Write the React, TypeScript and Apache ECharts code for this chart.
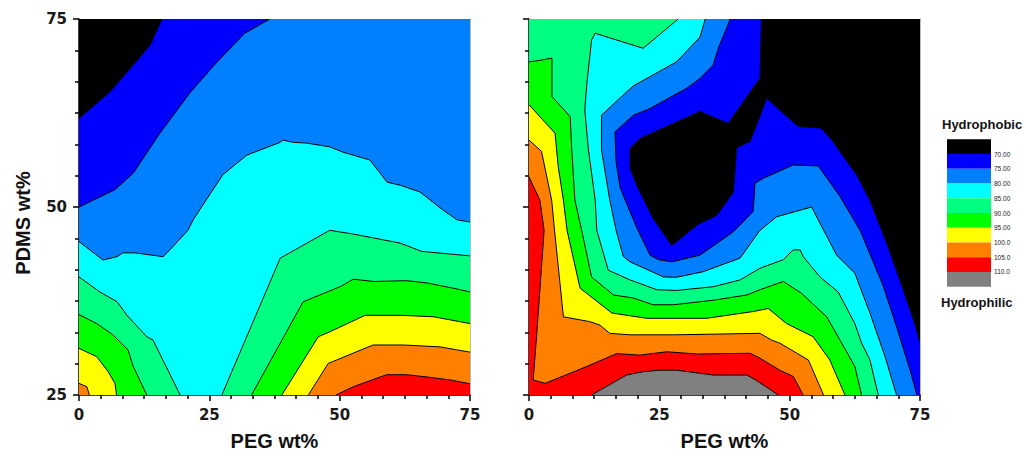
import React, { useEffect, useRef } from 'react';
import * as echarts from 'echarts';

// Legend levels and band colours (black = most hydrophobic, grey = most hydrophilic)
const levelLabels = ['70.00', '75.00', '80.00', '85.00', '90.00', '95.00', '100.0', '105.0', '110.0'];
const bandColors = ['#000000', '#0000FF', '#0080FF', '#00FFFF', '#00FF80', '#00FF00', '#FFFF00', '#FF8000', '#FF0000', '#808080'];

// ---------- Left panel contour lines: [PEG wt%, PDMS wt%] ----------
const left70 = [[0, 61.8], [5.9, 65.3], [10.4, 68.9], [13.6, 71.5], [15.9, 75]];
const left75 = [[0, 50], [6.9, 52.3], [10.4, 54.5], [15.5, 59.8], [21.3, 65.2], [26.5, 69.3], [31.8, 73.1], [36.6, 75]];
const left80 = [[0, 45.4], [4.6, 42.95], [7.3, 43.4], [8.4, 43.9], [10.7, 43.9], [16.1, 43.4], [16.9, 43.9], [20.9, 46.9], [21.9, 48.3], [25.7, 52.3], [27.6, 54.3], [32.2, 56.9], [38.6, 58.6], [39.1, 58.9], [41.0, 58.6], [43.7, 58.5], [48.1, 58.0], [50.6, 57.3], [55.8, 56.25], [59.1, 53.3], [61.6, 52.9], [65.4, 52.0], [69.8, 49.6], [72.5, 48.3], [75, 48.0]];
const left85a = [[0, 40.7], [4.0, 38.7], [7.3, 37.4], [9.2, 35.6], [13.0, 32.75], [14.2, 32.3], [19.4, 25]];
const left85b = [[27.4, 25], [38.6, 43.2], [48.1, 46.9], [52.6, 46.4], [61.6, 45.2], [65.7, 44.1], [75, 43.5]];
const left90a = [[0, 35.7], [3.4, 34.5], [6.5, 33.0], [9.4, 31.0], [10.4, 28.8], [13.0, 25]];
const left90b = [[33.1, 25], [43.0, 37.4], [50.1, 39.4], [52.6, 40.4], [56.5, 40.1], [62.9, 40.2], [66.7, 39.9], [71.8, 39.2], [75, 38.7]];
const left95a = [[0, 31.2], [3.4, 30.1], [5.6, 28.1], [6.9, 26.55], [7.2, 25]];
const left95b = [[38.9, 25], [45.9, 32.75], [48.1, 33.4], [54.9, 35.6], [61.6, 35.6], [68.0, 35.4], [75, 34.5]];
const left100a = [[0, 26.55], [1.5, 26.1], [2.0, 25]];
const left100b = [[44.0, 25], [47.8, 29.2], [49.4, 29.65], [56.4, 31.65], [62.2, 31.65], [69.2, 31.4], [75, 30.7]];
const left105 = [[49.3, 25], [52.6, 26.1], [59.0, 27.7], [62.8, 27.7], [66.7, 27.4], [71.2, 27.0], [75, 26.5]];

// ---------- Right panel contour lines ----------
const right70 = [[44.6, 75], [44.3, 67.1], [38.2, 61.1], [32.8, 62.7], [21.3, 59.1], [19.4, 57.8], [19.4, 55.15], [20.7, 52.9], [23.8, 48.5], [27.4, 44.9], [32.2, 47.6], [36.0, 48.9], [39.2, 52.0], [39.8, 57.8], [40.1, 58.0], [42.4, 58.7], [45.6, 64.5], [48.1, 62.9], [51.7, 60.7], [56.1, 60.5], [58.1, 58.9], [62.9, 54.25], [65.4, 50.9], [68.9, 44.7], [71.8, 39.0], [74.0, 34.5], [75, 32.05]];
const right75 = [[38.6, 75], [36.3, 71.1], [35.35, 68.9], [32.8, 67.1], [30.25, 65.8], [23.2, 63.1], [20.0, 62.2], [16.5, 60.0], [16.7, 56.0], [17.5, 52.5], [20.7, 47.2], [23.2, 43.6], [24.8, 43.0], [27.4, 42.7], [32.8, 43.6], [39.2, 46.7], [43.0, 49.4], [43.35, 53.15], [44.9, 53.8], [50.7, 55.6], [55.5, 55.45], [59.65, 51.4], [63.5, 46.9], [68.0, 39.4], [70.5, 34.1], [73.1, 28.3], [74.4, 25]];
const right80 = [[33.8, 75], [32.8, 72.6], [28.3, 69.3], [20.0, 66.1], [17.45, 64.5], [13.9, 62.2], [13.9, 57.6], [15.5, 50.9], [16.7, 46.9], [18.1, 43.4], [19.4, 42.7], [25.8, 40.7], [28.3, 40.65], [33.4, 41.4], [40.5, 43.2], [44.3, 46.9], [47.5, 48.7], [54.2, 50.0], [59.0, 43.6], [62.5, 41.2], [65.4, 35.9], [68.3, 30.1], [70.5, 25]];
const right85 = [[28.6, 75], [21.9, 71.1], [12.7, 73.1], [12.0, 72.2], [11.1, 66.45], [10.7, 62.9], [11.4, 57.6], [12.7, 50.9], [13.0, 46.9], [15.2, 41.6], [19.4, 40.3], [24.5, 39.0], [28.3, 38.9], [35.35, 39.4], [40.5, 40.3], [44.3, 41.85], [48.8, 43.0], [50.7, 44.3], [52.0, 44.3], [52.6, 43.4], [55.8, 40.7], [59.3, 38.7], [62.5, 34.5], [63.8, 31.9], [65.4, 29.65], [67.0, 25]];
const right90 = [[0, 69.3], [2.1, 69.5], [4.4, 69.8], [4.4, 64.7], [7.9, 62.0], [8.2, 57.6], [8.8, 50.9], [10.1, 46.9], [12.0, 40.7], [16.2, 38.3], [20.0, 37.9], [23.8, 37.0], [27.7, 37.0], [35.35, 37.6], [41.8, 38.3], [44.3, 39.0], [48.8, 40.1], [52.3, 38.5], [57.1, 35.4], [59.65, 32.3], [62.5, 28.8], [63.8, 25]];
const right95 = [[0, 63.6], [5.0, 59.8], [5.6, 55.4], [6.6, 50.9], [7.3, 46.9], [9.8, 39.2], [15.9, 35.9], [22.6, 35.2], [34.1, 35.2], [43.0, 36.1], [45.9, 36.5], [49.4, 34.5], [54.5, 32.75], [57.7, 29.65], [60.6, 25]];
const right100 = [[0, 58.9], [2.4, 57.4], [4.35, 50.9], [4.9, 46.9], [6.6, 35.4], [11.7, 34.75], [13.6, 34.3], [15.5, 33.2], [19.4, 33.0], [27.7, 33.0], [44.3, 33.2], [46.55, 32.3], [48.1, 31.9], [53.6, 29.65], [56.5, 25]];
const right105 = [[0, 54.0], [2.1, 50.9], [2.9, 46.9], [1.5, 33.2], [0.8, 27.0], [3.1, 26.55], [11.1, 28.8], [16.8, 30.5], [21.3, 30.3], [26.4, 30.75], [32.2, 30.45], [42.4, 30.55], [44.3, 29.9], [48.1, 28.3], [50.7, 27.45], [52.6, 25]];
const right110 = [[12.0, 25], [18.7, 27.65], [21.9, 28.1], [25.1, 28.3], [28.3, 28.3], [35.35, 27.65], [41.8, 27.65], [43.5, 27.0], [47.8, 25]];

// Plot corners used to close each filled region
const fullBox = [[0, 25], [75, 25], [75, 75], [0, 75]];

type Region = { c: number; line: number[][]; close: number[][] };

const leftRegions: Region[] = [
  { c: 0, line: [], close: fullBox },
  { c: 1, line: left70, close: [[75, 75], [75, 25], [0, 25]] },
  { c: 2, line: left75, close: [[75, 75], [75, 25], [0, 25]] },
  { c: 3, line: left80, close: [[75, 25], [0, 25]] },
  { c: 4, line: left85a, close: [[0, 25]] },
  { c: 4, line: left85b, close: [[75, 25]] },
  { c: 5, line: left90a, close: [[0, 25]] },
  { c: 5, line: left90b, close: [[75, 25]] },
  { c: 6, line: left95a, close: [[0, 25]] },
  { c: 6, line: left95b, close: [[75, 25]] },
  { c: 7, line: left100a, close: [[0, 25]] },
  { c: 7, line: left100b, close: [[75, 25]] },
  { c: 8, line: left105, close: [[75, 25]] },
];

const rightRegions: Region[] = [
  { c: 0, line: [], close: fullBox },
  { c: 1, line: right70, close: [[75, 25], [0, 25], [0, 75]] },
  { c: 2, line: right75, close: [[0, 25], [0, 75]] },
  { c: 3, line: right80, close: [[0, 25], [0, 75]] },
  { c: 4, line: right85, close: [[0, 25], [0, 75]] },
  { c: 5, line: right90, close: [[0, 25]] },
  { c: 6, line: right95, close: [[0, 25]] },
  { c: 7, line: right100, close: [[0, 25]] },
  { c: 8, line: right105, close: [[0, 25]] },
  { c: 9, line: right110, close: [] },
];

const tickFont = { fontFamily: 'DejaVu Sans', fontWeight: 'bold' as const, fontSize: 15, color: '#1a1a1a' };
const nameFont = { fontFamily: 'Liberation Sans, Arial', fontWeight: 'bold' as const, fontSize: 20, color: '#111' };

function fillSeries(idx: number, regions: Region[]) {
  return {
    type: 'custom',
    xAxisIndex: idx,
    yAxisIndex: idx,
    coordinateSystem: 'cartesian2d',
    clip: true,
    silent: true,
    z: 1,
    data: regions.map((_, i) => [37.5, 50, i]),
    renderItem: (params: any, api: any) => {
      const r = regions[params.dataIndex];
      const pts = r.line.concat(r.close).map((p) => api.coord(p));
      return { type: 'polygon', shape: { points: pts }, style: { fill: bandColors[r.c], stroke: null } };
    },
  };
}

function lineSeries(idx: number, regions: Region[]) {
  const withLines = regions.filter((r) => r.line.length > 1);
  return {
    type: 'custom',
    xAxisIndex: idx,
    yAxisIndex: idx,
    coordinateSystem: 'cartesian2d',
    clip: true,
    silent: true,
    z: 2,
    data: withLines.map((_, i) => [37.5, 50, i]),
    renderItem: (params: any, api: any) => {
      const r = withLines[params.dataIndex];
      const pts = r.line.map((p) => api.coord(p));
      return { type: 'polyline', shape: { points: pts }, style: { stroke: '#000', lineWidth: 1, fill: null } };
    },
  };
}

function bottomAxis(gridIndex: number) {
  return {
    gridIndex,
    type: 'value',
    position: 'bottom',
    min: 0,
    max: 75,
    interval: 25,
    name: 'PEG wt%',
    nameLocation: 'middle',
    nameGap: 36,
    nameTextStyle: nameFont,
    axisLine: { show: true, onZero: false, lineStyle: { color: '#000', width: 1.5 } },
    axisTick: { show: true, length: 6, lineStyle: { color: '#000', width: 1.5 } },
    minorTick: { show: true, splitNumber: 6, length: 4, lineStyle: { color: '#000', width: 1.5 } },
    axisLabel: { ...tickFont, margin: 12 },
    splitLine: { show: false },
    minorSplitLine: { show: false },
  };
}

function leftAxis(gridIndex: number, withLabels: boolean) {
  return {
    gridIndex,
    type: 'value',
    position: 'left',
    min: 25,
    max: 75,
    interval: 25,
    name: withLabels ? 'PDMS wt%' : '',
    nameLocation: 'middle',
    nameGap: 46,
    nameRotate: 90,
    nameTextStyle: { ...nameFont, padding: [0, 32, 0, 0] },
    axisLine: { show: true, onZero: false, lineStyle: { color: '#000', width: 1.5 } },
    axisTick: { show: true, length: 6, lineStyle: { color: '#000', width: 1.5 } },
    minorTick: { show: true, splitNumber: 6, length: 4, lineStyle: { color: '#000', width: 1.5 } },
    axisLabel: { show: withLabels, ...tickFont, margin: 12 },
    splitLine: { show: false },
    minorSplitLine: { show: false },
  };
}

function frameAxis(gridIndex: number, pos: string, color: string, isX: boolean) {
  return {
    gridIndex,
    type: 'value',
    position: pos,
    min: isX ? 0 : 25,
    max: 75,
    axisLine: { show: true, onZero: false, lineStyle: { color, width: 1 } },
    axisTick: { show: false },
    axisLabel: { show: false },
    splitLine: { show: false },
  };
}

function legendGraphic() {
  const x0 = 947;
  const y0 = 139.3;
  const w = 44;
  const h = 14.74;
  const children: any[] = [];
  bandColors.forEach((col, i) => {
    children.push({ type: 'rect', shape: { x: x0, y: y0 + i * h, width: w, height: h }, style: { fill: col } });
  });
  levelLabels.forEach((lab, i) => {
    children.push({
      type: 'text',
      style: { text: lab, x: x0 + w + 3, y: y0 + (i + 1) * h, fontSize: 6.5, fontFamily: 'Liberation Sans, Arial', fill: '#222', verticalAlign: 'middle', align: 'left' },
    });
  });
  children.push({
    type: 'text',
    style: { text: 'Hydrophobic', x: 942, y: 124, fontSize: 13, fontWeight: 'bold', fontFamily: 'Liberation Sans, Arial', fill: '#111', verticalAlign: 'middle', align: 'left' },
  });
  children.push({
    type: 'text',
    style: { text: 'Hydrophilic', x: 941, y: 302, fontSize: 13, fontWeight: 'bold', fontFamily: 'Liberation Sans, Arial', fill: '#111', verticalAlign: 'middle', align: 'left' },
  });
  return [{ type: 'group', children }];
}

export default function App() {
  const ref = useRef<HTMLDivElement>(null);
  useEffect(() => {
    document.body.style.margin = '0';
    if (!ref.current) return;
    const chart = echarts.init(ref.current, null, { renderer: 'svg' });
    chart.setOption({
      animation: false,
      backgroundColor: '#ffffff',
      grid: [
        { left: 79, top: 19, width: 391, height: 376 },
        { left: 529, top: 19, width: 391, height: 376 },
      ],
      xAxis: [
        bottomAxis(0),
        bottomAxis(1),
        frameAxis(0, 'top', '#555', true),
        frameAxis(1, 'top', '#777', true),
      ],
      yAxis: [
        leftAxis(0, true),
        leftAxis(1, false),
        frameAxis(0, 'right', '#bbb', false),
        frameAxis(1, 'right', '#bbb', false),
      ],
      series: [fillSeries(0, leftRegions), lineSeries(0, leftRegions), fillSeries(1, rightRegions), lineSeries(1, rightRegions)],
      graphic: legendGraphic(),
    });
    return () => chart.dispose();
  }, []);
  return <div ref={ref} style={{ width: 1026, height: 459 }} />;
}
